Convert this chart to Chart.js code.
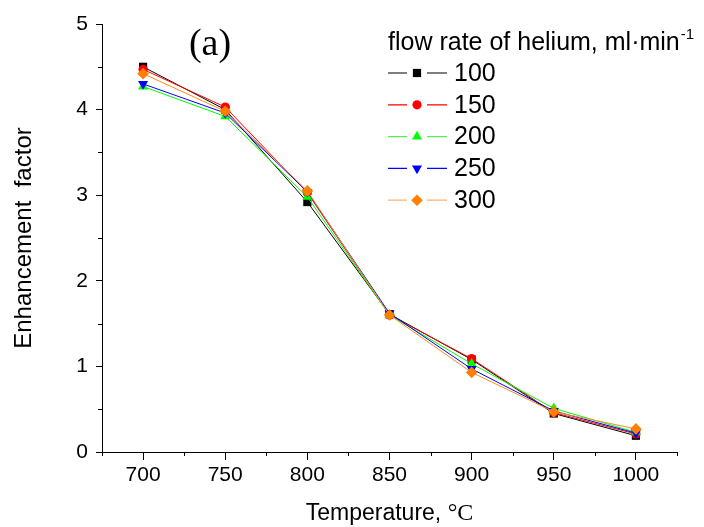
<!DOCTYPE html>
<html lang="en">
<head>
<meta charset="utf-8">
<title>Enhancement factor vs temperature</title>
<script src="https://cdn.jsdelivr.net/npm/chart.js@4.4.0/dist/chart.umd.min.js"></script>
<style>
  html, body { margin: 0; padding: 0; background: #fff; }
  #wrap { position: relative; width: 704px; height: 527px; }
</style>
</head>
<body>
<div id="wrap"><canvas id="gr" width="704" height="527"></canvas></div>
<script>
// temperature, °C
const temps = [700, 750, 800, 850, 900, 950, 1000];
// flow rate of helium (legend labels)
const flowRates = ['100', '150', '200', '250', '300'];
// enhancement factor
const ef100 = [4.50, 4.00, 2.92, 1.61, 1.08, 0.45, 0.19];
const ef150 = [4.47, 4.03, 3.03, 1.60, 1.09, 0.46, 0.21];
const ef200 = [4.27, 3.92, 2.98, 1.60, 1.03, 0.51, 0.23];
const ef250 = [4.30, 3.96, 3.04, 1.62, 0.97, 0.48, 0.22];
const ef300 = [4.42, 3.98, 3.05, 1.60, 0.93, 0.47, 0.27];
// ticks
const xMajor = [700, 750, 800, 850, 900, 950, 1000];
const xMinor = [675, 725, 775, 825, 875, 925, 975, 1025];
const yMajor = [0, 1, 2, 3, 4, 5];
const yMinor = [0.5, 1.5, 2.5, 3.5, 4.5];

// styles
const series = [ef100, ef150, ef200, ef250, ef300];
const markColors = ['#000000', '#ff0000', '#00ff00', '#0000ff', '#ff8000'];
const lineColors = ['#000000', '#ff0000', '#00ff00', '#0000ff', '#ff8c1a'];
const legendLineColors = ['#000000', '#ff0000', '#55ee55', '#0000ff', '#ffb070'];
const markStyles = ['rect', 'circle', 'triangle', 'triangle', 'rectRot'];
const markRot = [0, 0, 0, 180, 0];
const markRadius = [5.8, 4.6, 5.8, 5.8, 5.8];

const SANS = 'Liberation Sans, Arial, sans-serif';
const SERIF = 'Liberation Serif, Times New Roman, serif';
Chart.defaults.font.family = SANS;
Chart.defaults.color = '#000';

// small outward minor ticks (Chart.js has none)
const minorTicks = {
    id: 'minorTicks',
    afterDraw(chart) {
        const ctx = chart.ctx, xs = chart.scales.x, ys = chart.scales.y;
        ctx.save();
        ctx.strokeStyle = '#000';
        ctx.lineWidth = 1;
        ctx.beginPath();
        xMinor.forEach(v => {
            const px = Math.round(xs.getPixelForValue(v)) + 0.5;
            ctx.moveTo(px, xs.top);
            ctx.lineTo(px, xs.top + 4);
        });
        yMinor.forEach(v => {
            const py = Math.round(ys.getPixelForValue(v)) + 0.5;
            ctx.moveTo(ys.right, py);
            ctx.lineTo(ys.right - 4, py);
        });
        ctx.stroke();
        ctx.restore();
    }
};

function marker(ctx, i, x, y) {
    ctx.fillStyle = markColors[i];
    ctx.strokeStyle = markColors[i];
    Chart.helpers.drawPoint(ctx, {
        pointStyle: markStyles[i], rotation: markRot[i],
        radius: markRadius[i], borderWidth: 0
    }, x, y);
}

// legend like the original (line - marker - line  label), "(a)" and the x title
const sideLegend = {
    id: 'sideLegend',
    afterDraw(chart) {
        const ctx = chart.ctx;
        ctx.save();
        ctx.fillStyle = '#000';
        ctx.textBaseline = 'alphabetic';
        ctx.textAlign = 'left';
        ctx.font = '25px ' + SANS;
        const head = 'flow rate of helium, ml\u00B7min';
        ctx.fillText(head, 388, 50);
        const w = ctx.measureText(head).width;
        ctx.font = '15px ' + SANS;
        ctx.fillText('-1', 388 + w + 1, 39);

        flowRates.forEach((lab, i) => {
            const cy = 73 + i * 31.8;
            ctx.strokeStyle = legendLineColors[i];
            ctx.lineWidth = 1.2;
            ctx.beginPath();
            ctx.moveTo(388, cy); ctx.lineTo(407, cy);
            ctx.moveTo(427, cy); ctx.lineTo(447, cy);
            ctx.stroke();
            marker(ctx, i, 417, cy);
            ctx.fillStyle = '#000';
            ctx.font = '25px ' + SANS;
            ctx.textBaseline = 'middle';
            ctx.fillText(lab, 454, cy + 1);
        });

        ctx.font = '38px ' + SERIF;
        ctx.textAlign = 'center';
        ctx.textBaseline = 'alphabetic';
        ctx.fillText('(a)', 210, 55);

        // x axis title: sans text + serif degree sign, centred under the plot
        const a = chart.chartArea;
        const t1 = 'Temperature, ', t2 = '\u00B0C';
        ctx.font = '23px ' + SANS;
        const w1 = ctx.measureText(t1).width;
        ctx.font = '24px ' + SERIF;
        const w2 = ctx.measureText(t2).width;
        const x0 = (a.left + a.right) / 2 - (w1 + w2) / 2;
        ctx.textAlign = 'left';
        ctx.font = '23px ' + SANS;
        ctx.fillText(t1, x0, 520);
        ctx.font = '24px ' + SERIF;
        ctx.fillText(t2, x0 + w1, 520);
        ctx.restore();
    }
};

const dsets = series.map((s, i) => ({
    label: flowRates[i],
    data: temps.map((t, k) => ({ x: t, y: s[k] })),
    borderColor: lineColors[i],
    backgroundColor: markColors[i],
    borderWidth: 1,
    pointStyle: markStyles[i],
    rotation: markRot[i],
    pointRadius: markRadius[i],
    pointBorderWidth: 0,
    pointBackgroundColor: markColors[i],
    order: series.length - 1 - i
}));

new Chart(document.getElementById('gr').getContext('2d'), {
    type: 'line',
    data: { datasets: dsets },
    options: {
        responsive: false,
        animation: false,
        devicePixelRatio: 1,
        layout: { padding: { top: 24, right: 27, left: 0, bottom: 0 } },
        plugins: { legend: { display: false }, tooltip: { enabled: false } },
        scales: {
            x: {
                type: 'linear',
                min: 675, max: 1025,
                afterBuildTicks: s => { s.ticks = xMajor.map(v => ({ value: v })); },
                afterFit: s => { s.height = 75; },
                grid: { drawOnChartArea: false, tickLength: 8, color: '#000' },
                border: { color: '#000', width: 1 },
                ticks: { font: { size: 21 }, padding: 3, maxRotation: 0, color: '#000',
                         callback: v => String(v) },
                title: { display: false }
            },
            y: {
                min: 0, max: 5,
                afterBuildTicks: s => { s.ticks = yMajor.map(v => ({ value: v })); },
                afterFit: s => { s.width = 102; },
                grid: { drawOnChartArea: false, tickLength: 6, color: '#000' },
                border: { color: '#000', width: 1 },
                ticks: { font: { size: 21 }, padding: 8, color: '#000', callback: v => String(v) },
                title: { display: true, text: 'Enhancement  factor', font: { size: 24 }, color: '#000',
                         padding: { top: 10, bottom: 0 } }
            }
        }
    },
    plugins: [minorTicks, sideLegend]
});
</script>
</body>
</html>
